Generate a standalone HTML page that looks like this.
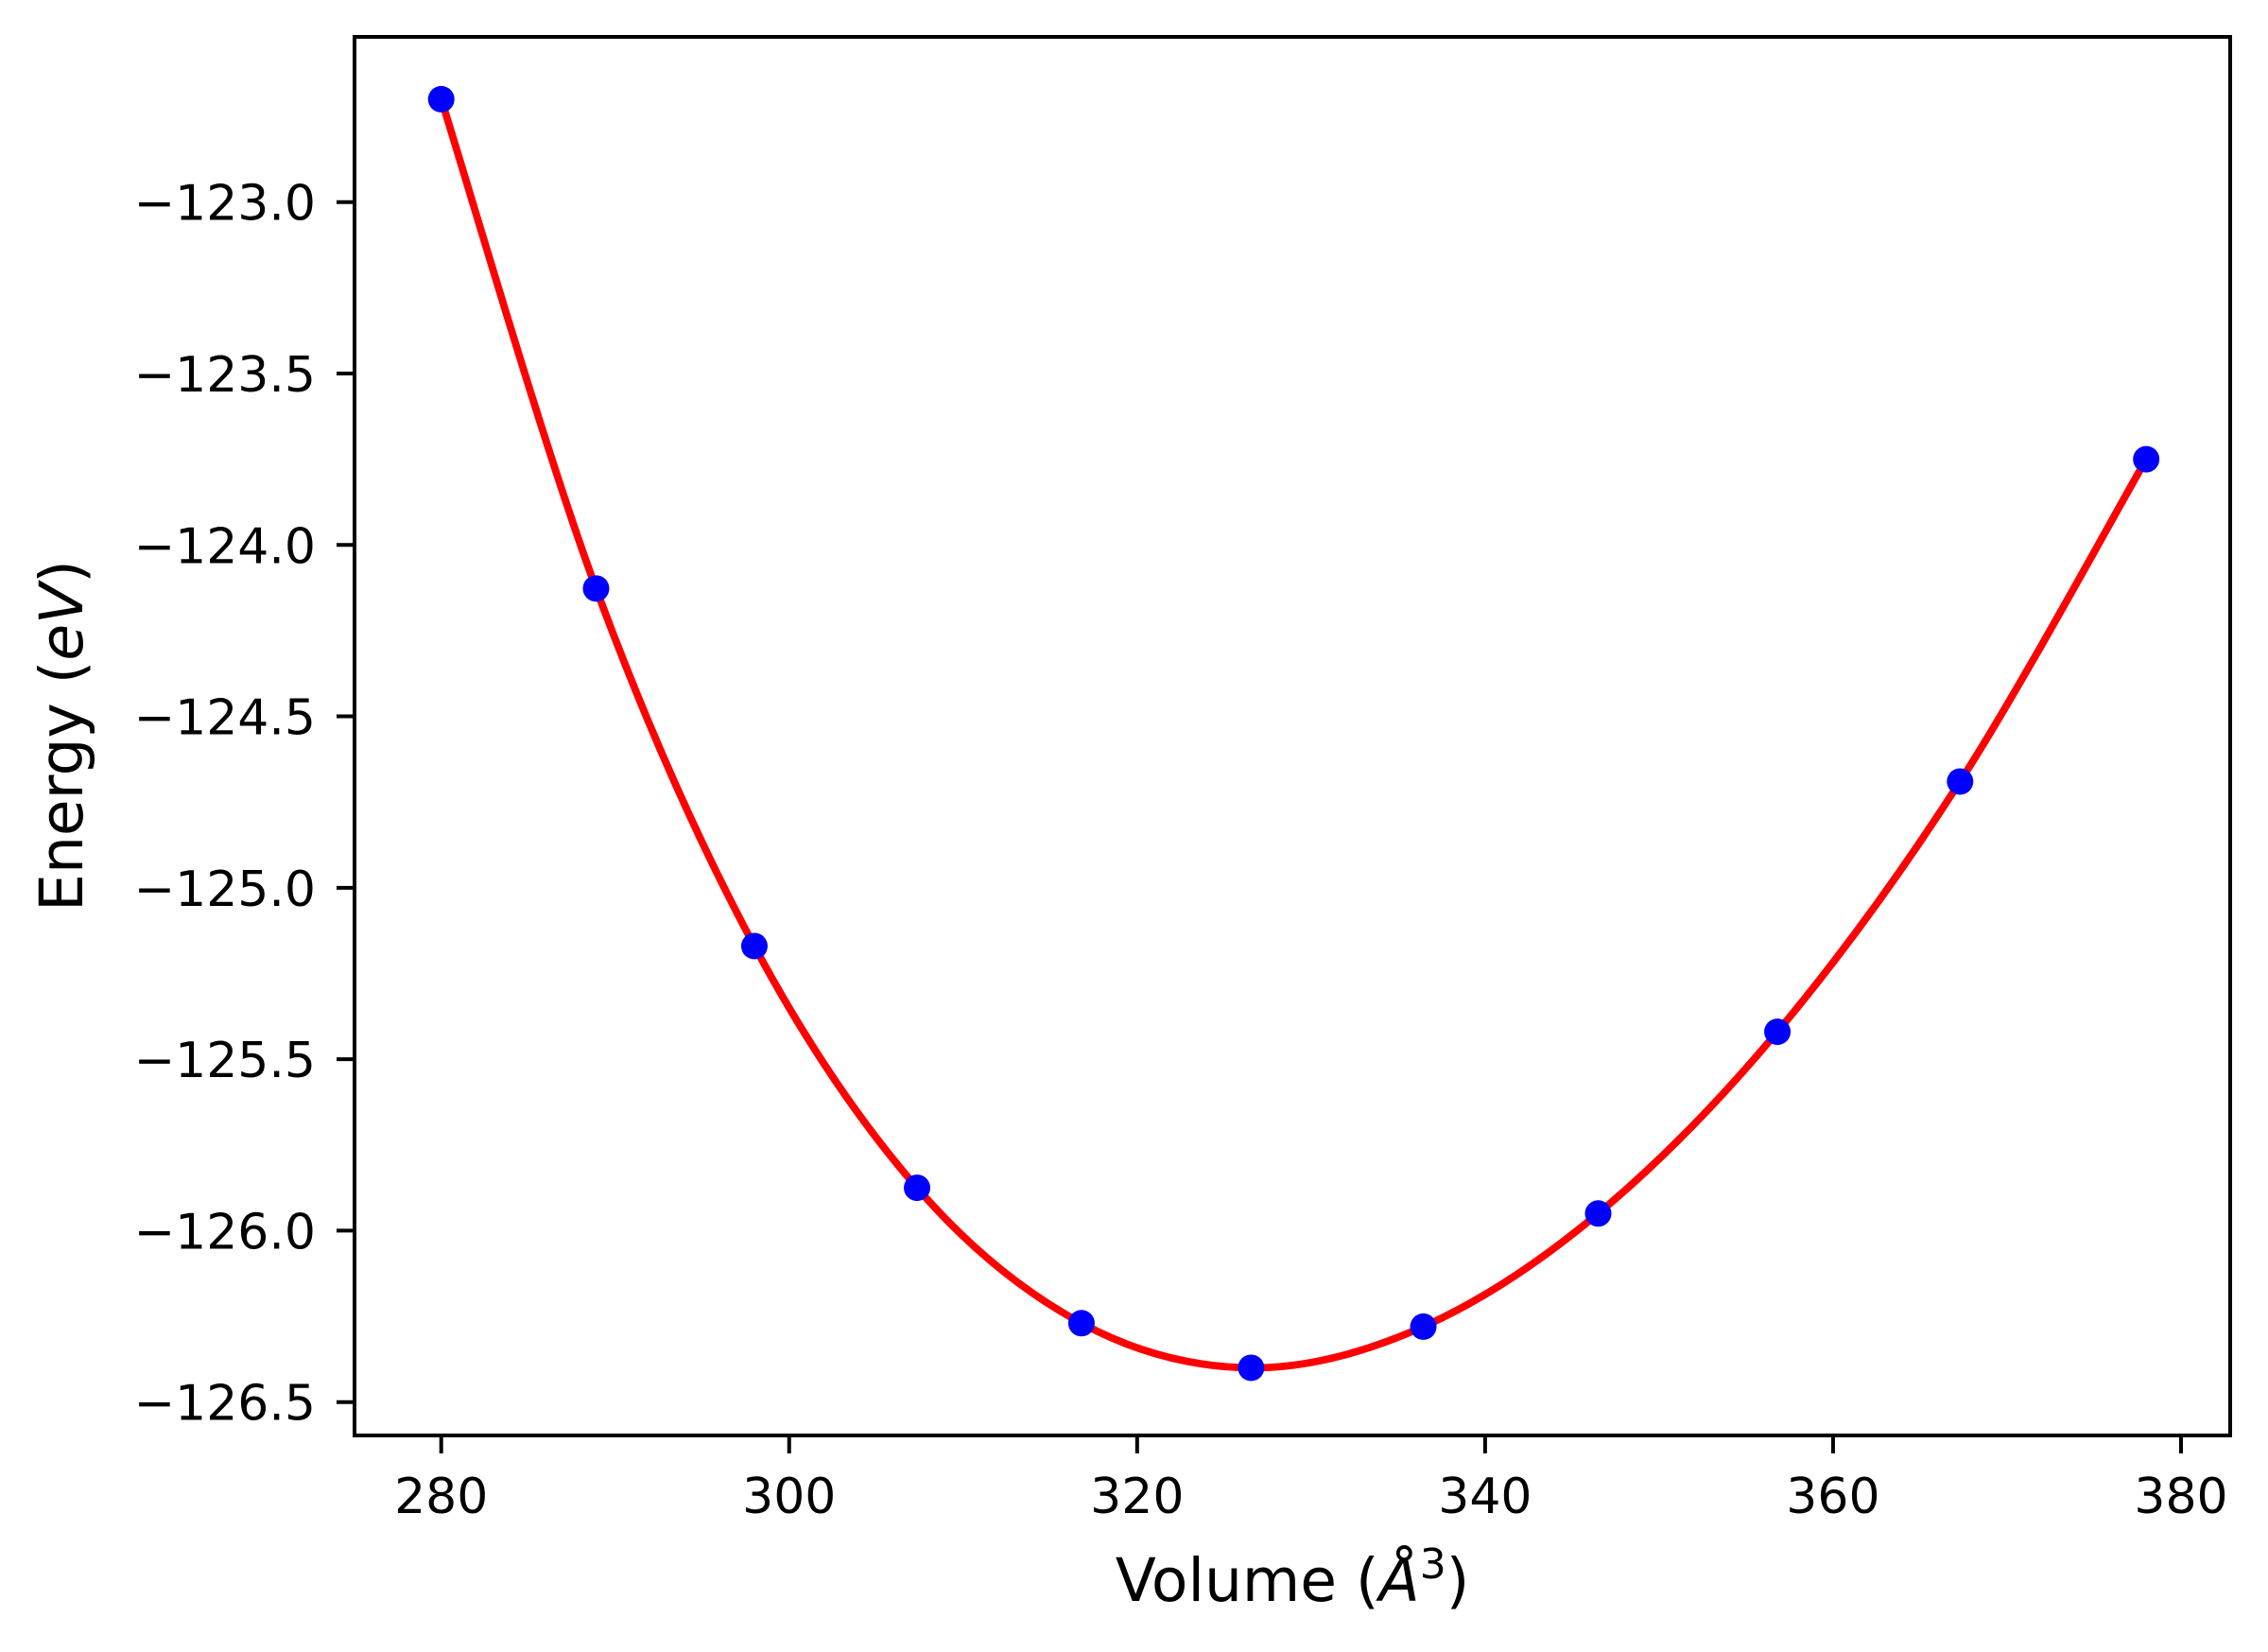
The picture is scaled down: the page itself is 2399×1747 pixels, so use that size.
<!DOCTYPE html>
<html><head><meta charset="utf-8"><style>html,body{margin:0;padding:0;background:#fff}svg{display:block}</style></head>
<body>
<svg id="chart" xmlns="http://www.w3.org/2000/svg" width="2399" height="1747" viewBox="0 0 2399 1747" font-family="DejaVu Sans, Liberation Sans, sans-serif">
<rect width="2399" height="1747" fill="#fff"/>
<g id="curve-layer"></g>
<g id="points-layer"></g>
<rect x="375" y="39" width="1984" height="1479" fill="none" stroke="#000" stroke-width="4"/>
<g id="xticks"></g>
<g id="yticks"></g>
<text x="1367" y="1693" font-size="63" text-anchor="middle">Volume (<tspan font-style="italic">Å</tspan><tspan font-size="44" dy="-24">3</tspan><tspan dy="24">)</tspan></text>
<text transform="translate(87,778) rotate(-90)" font-size="63" text-anchor="middle">Energy (<tspan font-style="italic">eV</tspan>)</text>
</svg>
<script>
const volumes = [280.0, 288.9, 298.0, 307.35, 316.8, 326.55, 336.45, 346.5, 356.8, 367.3, 378.0];
const energies = [-122.70, -124.127, -125.17, -125.875, -126.27, -126.40, -126.28, -125.95, -125.42, -124.69, -123.75];
const xTicks = [280, 300, 320, 340, 360, 380];
const yTicks = [-123.0, -123.5, -124.0, -124.5, -125.0, -125.5, -126.0, -126.5];
const xTickLabels = ["280", "300", "320", "340", "360", "380"];
const yTickLabels = ["\u2212123.0", "\u2212123.5", "\u2212124.0", "\u2212124.5", "\u2212125.0", "\u2212125.5", "\u2212126.0", "\u2212126.5"];

const NS = "http://www.w3.org/2000/svg";
function xScale(v){ return 466.7 + (v - 280) * (2307 - 466.7) / 100; }
function yScale(e){ return 213.7 + (-123 - e) * (1482.7 - 213.7) / 3.5; }

// smooth curve through data (Catmull-Rom -> cubic bezier)
const pts = volumes.map((v,i)=>[xScale(v), yScale(energies[i])]);
let d = "M" + pts[0][0] + "," + pts[0][1];
for (let i=0;i<pts.length-1;i++){
  const p0 = pts[Math.max(0,i-1)], p1 = pts[i], p2 = pts[i+1], p3 = pts[Math.min(pts.length-1,i+2)];
  const c1x = p1[0] + (p2[0]-p0[0])/6, c1y = p1[1] + (p2[1]-p0[1])/6;
  const c2x = p2[0] - (p3[0]-p1[0])/6, c2y = p2[1] - (p3[1]-p1[1])/6;
  d += " C" + c1x + "," + c1y + " " + c2x + "," + c2y + " " + p2[0] + "," + p2[1];
}
const path = document.createElementNS(NS, "path");


path.setAttribute("d", d);
path.setAttribute("fill", "none");
path.setAttribute("stroke", "#ff0000");
path.setAttribute("stroke-width", "7.8");
document.getElementById("curve-layer").appendChild(path);

const pl = document.getElementById("points-layer");
volumes.forEach((v,i)=>{
  const c = document.createElementNS(NS, "circle");
  
  
  c.setAttribute("cx", xScale(v));
  c.setAttribute("cy", yScale(energies[i]));
  c.setAttribute("r", "14");
  c.setAttribute("fill", "#0000ff");
  pl.appendChild(c);
});

const xg = document.getElementById("xticks");
xTicks.forEach((t,i)=>{
  const x = xScale(t);
  const l = document.createElementNS(NS, "line");
  
  
  l.setAttribute("x1", x); l.setAttribute("x2", x);
  l.setAttribute("y1", 1518); l.setAttribute("y2", 1537);
  l.setAttribute("stroke", "#000"); l.setAttribute("stroke-width", "4");
  xg.appendChild(l);
  const tx = document.createElementNS(NS, "text");
  
  
  tx.setAttribute("x", x); tx.setAttribute("y", 1600);
  tx.setAttribute("font-size", "52"); tx.setAttribute("text-anchor", "middle");
  tx.textContent = xTickLabels[i];
  xg.appendChild(tx);
});

const yg = document.getElementById("yticks");
yTicks.forEach((t,i)=>{
  const y = yScale(t);
  const l = document.createElementNS(NS, "line");
  
  
  l.setAttribute("x1", 356); l.setAttribute("x2", 375);
  l.setAttribute("y1", y); l.setAttribute("y2", y);
  l.setAttribute("stroke", "#000"); l.setAttribute("stroke-width", "4");
  yg.appendChild(l);
  const tx = document.createElementNS(NS, "text");
  
  
  tx.setAttribute("x", 334); tx.setAttribute("y", y + 19);
  tx.setAttribute("font-size", "52"); tx.setAttribute("text-anchor", "end");
  tx.textContent = yTickLabels[i];
  yg.appendChild(tx);
});
</script>
</body></html>
